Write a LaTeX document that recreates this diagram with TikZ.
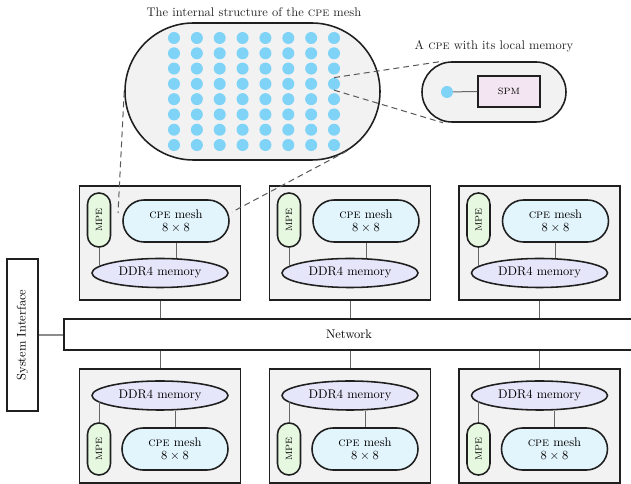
\documentclass[tikz,border=0pt]{standalone}
\usetikzlibrary{shapes.geometric}
\definecolor{bgray}{HTML}{F2F2F2}
\definecolor{dotblue}{HTML}{7FD3F7}
\definecolor{mpegreen}{HTML}{E6F8E0}
\definecolor{cpecyan}{HTML}{E2F4FC}
\definecolor{ddrlav}{HTML}{E6E6FA}
\definecolor{spmpink}{HTML}{F3E5F1}
\newcommand\mainsz{\fontsize{10}{11.5}\selectfont}
\newcommand\tinysz{\fontsize{7.3}{8}\selectfont}
\begin{document}
\begin{tikzpicture}[x=0.8pt,y=-0.8pt,
  bord/.style={draw=black!88,line width=1.25pt},
  block/.style={bord,fill=bgray,minimum width=128.8pt,minimum height=91.2pt,inner sep=0pt},
  mpebox/.style={bord,fill=mpegreen,minimum width=18.4pt,rounded corners=9.1pt,inner sep=0pt,font=\tinysz},
  cpebox/.style={bord,fill=cpecyan,minimum width=84.8pt,minimum height=33.6pt,rounded corners=16.8pt,inner sep=0pt,align=center,font=\mainsz},
  ddr/.style={bord,ellipse,fill=ddrlav,minimum width=108.8pt,minimum height=23.2pt,inner sep=0pt,font=\mainsz},
  dot/.style={circle,fill=dotblue,minimum size=9.6pt,inner sep=0pt},
  conn/.style={draw=black!60,line width=0.8pt},
  dashconn/.style={draw=black!65,line width=0.8pt,dash pattern=on 4.8pt off 3.2pt},
  lbl/.style={font=\mainsz,text=black!85,inner sep=0pt}
]
\clip (0,0) rectangle (631,484);
\fill[white] (0,0) rectangle (631,484);

% titles
\node[lbl] (t1) at (254,12) {The internal structure of the \textsc{cpe} mesh};
\node[lbl] (t2) at (494,46) {A \textsc{cpe} with its local memory};

% big stadium with 8x8 dots
\node[bord,fill=bgray,minimum width=204pt,minimum height=109.6pt,rounded corners=54.7pt,inner sep=0pt] (big) at (252.5,91.5) {};
\foreach \i in {1,...,8}{
  \foreach \j in {1,...,8}{
    \node[dot] (d\i\j) at ({174+22.86*(\i-1)},{38+15.29*(\j-1)}) {};
  }
}

% small stadium
\node[bord,fill=bgray,minimum width=115.2pt,minimum height=48pt,rounded corners=24pt,inner sep=0pt] (small) at (494,92) {};
\node[dot] (sdot) at (447,92) {};
\node[bord,line width=1.1pt,fill=spmpink,minimum width=49.6pt,minimum height=24.8pt,inner sep=0pt,font=\tinysz] (spm) at (509,91.5) {SPM};
\draw[conn] (sdot) -- (spm.west);

% top blocks
\foreach \n/\X in {1/160,2/350,3/539.5}{
  \node[block] (tb\n) at (\X,243) {};
  \node[mpebox,minimum height=43.2pt] (tm\n) at (\X-61,220) {\rotatebox{90}{MPE}};
  \node[cpebox] (tc\n) at (\X+16,221) {\textsc{cpe} mesh\\[-1pt] $8\times 8$};
  \node[ddr] (td\n) at (\X,273) {DDR4 memory};
  \draw[conn] (tc\n.south) -- (tc\n.south |- td\n.north);
  \draw[conn] (tm\n.south) -- (tm\n.south |- td\n.174.5);
}

% bottom blocks
\foreach \n/\X in {1/160,2/350,3/539.5}{
  \node[block] (bb\n) at (\X,426) {};
  \node[ddr] (bd\n) at (\X,395.5) {DDR4 memory};
  \node[mpebox,minimum height=41.6pt] (bm\n) at (\X-61,449) {\rotatebox{90}{MPE}};
  \node[cpebox] (bc\n) at (\X+15,449) {\textsc{cpe} mesh\\[-1pt] $8\times 8$};
  \draw[conn] (bc\n.north) -- (bc\n.north |- bd\n.south);
  \draw[conn] (bm\n.north) -- (bm\n.north |- bd\n.185.5);
}

% network and system interface
\node[bord,fill=white,minimum width=456pt,minimum height=24.8pt,inner sep=0pt,font=\mainsz] (net) at (349,334.5) {Network};
\node[bord,fill=white,minimum width=24.8pt,minimum height=121.6pt,inner sep=0pt,font=\mainsz] (si) at (22.5,335) {\rotatebox{90}{System Interface}};
\draw[draw=black!45,line width=1.2pt] (si.east) -- (si.east -| net.west);
\foreach \n in {1,2,3}{
  \draw[conn] (tb\n.south) -- (tb\n.south |- net.north);
  \draw[conn] (net.south -| bb\n.north) -- (bb\n.north);
}

% zoom indications
\coordinate (z1) at (118,213);
\coordinate (z2) at (347,151);
\coordinate (z3) at (232,212);
\draw[dashconn] (big.west) -- (z1);
\draw[dashconn] (z2) -- (z3);
\draw[dashconn] (d84.north) -- ([xshift=-40.8pt]small.north);
\draw[dashconn] (d84.south) -- ([xshift=-40.8pt]small.south);
\end{tikzpicture}
\end{document}
